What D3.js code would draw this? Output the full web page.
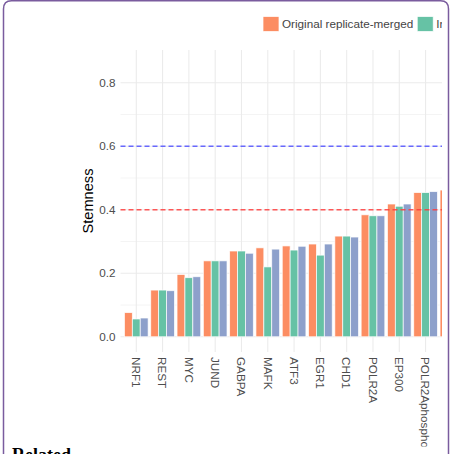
<!DOCTYPE html>
<html>
<head>
<meta charset="utf-8">
<script src="https://cdn.jsdelivr.net/npm/d3@7"></script>
<style>
  html, body { margin: 0; padding: 0; background: #fff; }
  svg { display: block; }
</style>
</head>
<body>
<svg id="chart" width="453" height="454"></svg>
<script>
// ---- data ----
const categories = ["NRF1", "REST", "MYC", "JUND", "GABPA", "MAFK", "ATF3", "EGR1", "CHD1", "POLR2A", "EP300", "POLR2AphosphoS5", "TAF1"];
const seriesNames = ["Original replicate-merged", "Individual replicates", "Pseudo-replicates"];
const originalValues = [0.076, 0.147, 0.196, 0.239, 0.270, 0.280, 0.286, 0.292, 0.317, 0.384, 0.418, 0.454, 0.462];
const individualValues = [0.056, 0.147, 0.186, 0.239, 0.270, 0.220, 0.273, 0.257, 0.317, 0.381, 0.411, 0.454, 0.455];
const pseudoValues = [0.059, 0.145, 0.189, 0.239, 0.263, 0.276, 0.285, 0.292, 0.314, 0.381, 0.418, 0.457, 0.465];
const yTicks = [0.0, 0.2, 0.4, 0.6, 0.8];
const yMinorTicks = [0.1, 0.3, 0.5, 0.7];
const thresholdLines = [{ value: 0.4, color: "rgba(255,60,60,0.85)" }, { value: 0.6, color: "rgba(80,80,255,0.85)" }];
const colors = ["#FC8D62", "#66C2A5", "#8DA0CB"];

// ---- layout ----
const svg = d3.select("#chart");
const FONT = "'Liberation Sans', Arial, sans-serif";
const panelLeft = 120.5, panelTop = 50, panelBottom = 352, step = 26.3;
const N = categories.length;
const panelRight = panelLeft + (N + 0.2) * step;

// frame
svg.append("path")
  .attr("d", `M3.5,${454 + 20} L3.5,9 Q3.5,0.8 11.5,0.8 L440.5,0.8 Q448.5,0.8 448.5,9 L448.5,${454 + 20}`)
  .attr("fill", "none").attr("stroke", "#7a5c9e").attr("stroke-width", 1.5);

// clip region for chart
svg.append("defs").append("clipPath").attr("id", "clip")
  .append("rect").attr("x", 4.5).attr("y", 1.5).attr("width", 442 - 4.5).attr("height", 445);

const g = svg.append("g").attr("clip-path", "url(#clip)");

const x = d3.scaleBand().domain(categories)
  .range([panelLeft + 0.1 * step, panelLeft + (N + 0.1) * step]).padding(0);
const xs = d3.scaleBand().domain(seriesNames)
  .range([0.05 * step, 0.95 * step]).padding(0);
const y = d3.scaleLinear().domain([-0.048, 0.903]).range([panelBottom, panelTop]);

// minor gridlines
g.append("g").selectAll("line").data(yMinorTicks).join("line")
  .attr("x1", panelLeft).attr("x2", panelRight)
  .attr("y1", d => y(d)).attr("y2", d => y(d))
  .attr("stroke", "#ebebeb").attr("stroke-width", 0.55);
// major gridlines (y)
g.append("g").selectAll("line").data(yTicks).join("line")
  .attr("x1", panelLeft).attr("x2", panelRight)
  .attr("y1", d => y(d)).attr("y2", d => y(d))
  .attr("stroke", "#ebebeb").attr("stroke-width", 1.07);
// vertical gridlines
g.append("g").selectAll("line").data(categories).join("line")
  .attr("x1", d => x(d) + step / 2).attr("x2", d => x(d) + step / 2)
  .attr("y1", panelTop).attr("y2", panelBottom)
  .attr("stroke", "#ebebeb").attr("stroke-width", 1.07);

// bars
const allValues = [originalValues, individualValues, pseudoValues];
const rows = [];
categories.forEach((c, i) => seriesNames.forEach((s, j) => rows.push({ c, s, j, v: allValues[j][i] })));
g.append("g").selectAll("rect").data(rows).join("rect")
  .attr("x", d => x(d.c) + xs(d.s))
  .attr("width", xs.bandwidth())
  .attr("y", d => y(d.v))
  .attr("height", d => y(0) - y(d.v))
  .attr("fill", d => colors[d.j])
  .attr("stroke", "rgba(255,255,255,0.85)")
  .attr("stroke-width", 0.8);

// threshold lines
g.append("g").selectAll("line").data(thresholdLines).join("line")
  .attr("x1", panelLeft).attr("x2", panelRight)
  .attr("y1", d => y(d.value)).attr("y2", d => y(d.value))
  .attr("stroke", d => d.color).attr("stroke-width", 1.4)
  .attr("stroke-dasharray", "5,3");

// y axis labels
const yAxis = d3.axisLeft(y).tickValues(yTicks).tickFormat(d3.format(".1f")).tickSize(0).tickPadding(5);
const ya = g.append("g").attr("transform", `translate(${panelLeft},0)`).call(yAxis);
ya.select(".domain").remove();
ya.selectAll("text").attr("fill", "#4d4d4d").style("font-family", FONT).style("font-size", "11.7px");

// x axis labels
const xAxis = d3.axisBottom(x).tickSize(0).tickPadding(0);
const xa = g.append("g").attr("transform", `translate(0,${panelBottom})`).call(xAxis);
xa.select(".domain").remove();
xa.selectAll("text")
  .attr("fill", "#4d4d4d").style("font-family", FONT).style("font-size", "11.7px")
  .attr("text-anchor", "start").attr("dy", null).attr("y", 0)
  .attr("transform", "translate(-4.2,5) rotate(90)");

// y title
g.append("text").attr("transform", `translate(93,${(panelTop + panelBottom) / 2}) rotate(-90)`)
  .attr("text-anchor", "middle").attr("fill", "#000")
  .style("font-family", FONT).style("font-size", "14.6px").text("Stemness");

// legend
const legend = g.append("g");
let lx = 263;
seriesNames.forEach((s, j) => {
  legend.append("rect").attr("x", lx).attr("y", 16.5).attr("width", 16).attr("height", 15)
    .attr("fill", colors[j]).attr("stroke", "rgba(255,255,255,0.9)").attr("stroke-width", 0.8);
  const t = legend.append("text").attr("x", lx + 19).attr("y", 28.3)
    .attr("fill", "#444").style("font-family", FONT).style("font-size", "11.7px").text(s);
  lx = lx + 19 + t.node().getComputedTextLength() + 4;
});

// text below frame
svg.append("text").attr("x", 12).attr("y", 461)
  .attr("fill", "#000").style("font-family", "'Liberation Serif', 'Times New Roman', serif")
  .style("font-weight", "bold").style("font-size", "18px").text("Related");
</script>
</body>
</html>
